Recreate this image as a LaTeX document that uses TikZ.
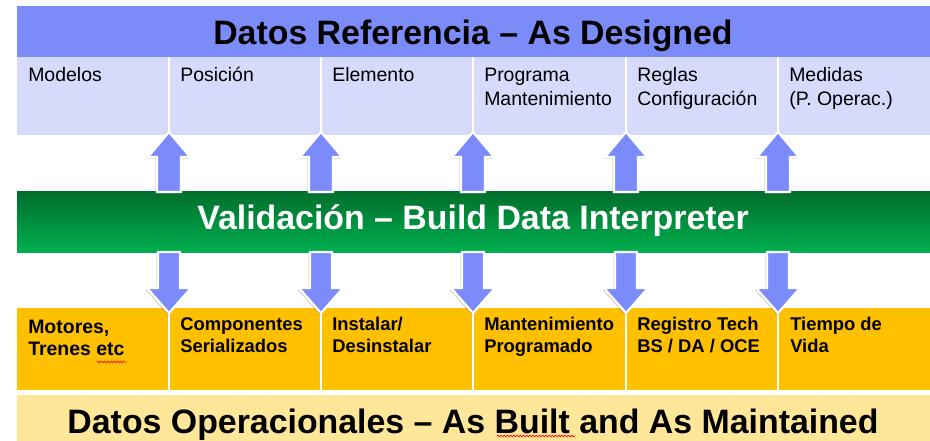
\documentclass[tikz,border=0pt]{standalone}
\usepackage{fontspec}
\setmainfont{Liberation Sans}
\usetikzlibrary{shadows,decorations.pathmorphing}
\definecolor{banblue}{HTML}{7B8CF9}
\definecolor{lightblue}{HTML}{D6DAFB}
\definecolor{gtop}{HTML}{006F2C}
\definecolor{gbot}{HTML}{00B050}
\definecolor{orng}{HTML}{FFC000}
\definecolor{paleor}{HTML}{FFE699}
\definecolor{arrblue}{HTML}{7B8CFA}
\tikzset{
  arrowshape/.style={fill=arrblue, draw=white, line width=1.6pt, line join=miter,
    drop shadow={opacity=0.35, shadow xshift=-1.2pt, shadow yshift=-1.2pt, fill=gray}},
  sepline/.style={draw=white, line width=0.9pt},
  toptext/.style={anchor=base west, inner sep=0pt, font=\fontsize{14.6}{18}\selectfont},
  bottext/.style={anchor=base west, inner sep=0pt, font=\fontsize{13.8}{16.5}\selectfont\bfseries},
  bottextbig/.style={anchor=base west, inner sep=0pt, font=\fontsize{14.6}{16.5}\selectfont\bfseries},
  bigtext/.style={inner sep=0pt, font=\fontsize{25.4}{30}\selectfont\bfseries},
  squiggle/.style={draw=red, line width=0.5pt, decorate, decoration={snake, amplitude=0.6pt, segment length=2.4pt}}
}
\newcommand{\tbox}[1]{\parbox[t]{150pt}{\raggedright #1}}
\begin{document}
\begin{tikzpicture}[x=0.75pt,y=-0.75pt]
\useasboundingbox (0,0) rectangle (930,441);
% bands
\fill[banblue] (17,6) rectangle (930,57);
\fill[lightblue] (17,57) rectangle (930,135);
\shade[top color=gtop, bottom color=gbot] (17,192) rectangle (930,253);
\fill[orng] (17,308) rectangle (930,390);
\fill[paleor] (17,395) rectangle (930,441);
% column borders
\foreach \n/\x in {1/169,2/321,3/473,4/626,5/778}{
  \coordinate (c\n) at (\x,0);
  \draw[sepline] (\x,57) -- (\x,135);
  \draw[sepline] (\x,308) -- (\x,390);
}
% titles
\node[bigtext] (title) at (473,45) [anchor=base] {Datos Referencia – As Designed};
\node[bigtext, text=white] (valid) at (473,230) [anchor=base] {Validación – Build Data Interpreter};
\node[bigtext] (oper) at (473,433) [anchor=base] {Datos Operacionales – As Built and As Maintained};
% top row texts
\node[toptext] (t1) at (28,82) {\tbox{Modelos}};
\node[toptext] (t2) at (180,82) {\tbox{Posición}};
\node[toptext] (t3) at (332,82) {\tbox{Elemento}};
\node[toptext] (t4) at (484,82) {\tbox{Programa\\Mantenimiento}};
\node[toptext] (t5) at (637,82) {\tbox{Reglas\\Configuración}};
\node[toptext] (t6) at (789,82) {\tbox{Medidas\\(P. Operac.)}};
% bottom row texts
\node[bottextbig] (b1) at (28,333) {\tbox{Motores,\\Trenes etc}};
\node[bottext] (b2) at (180,330) {\tbox{Componentes\\Serializados}};
\node[bottext] (b3) at (332,330) {\tbox{Instalar/\\Desinstalar}};
\node[bottext] (b4) at (484,330) {\tbox{Mantenimiento\\Programado}};
\node[bottext] (b5) at (637,330) {\tbox{Registro Tech\\BS / DA / OCE}};
\node[bottext] (b6) at (790,330) {\tbox{Tiempo de\\Vida}};
% arrows
\foreach \n in {1,...,5}{
  \path[arrowshape] ([xshift=0pt]c\n |- 0,132) -- ([xshift=21*0.75pt]c\n |- 0,157) -- ([xshift=12*0.75pt]c\n |- 0,157)
     -- ([xshift=12*0.75pt]c\n |- 0,192) -- ([xshift=-12*0.75pt]c\n |- 0,192) -- ([xshift=-12*0.75pt]c\n |- 0,157)
     -- ([xshift=-21*0.75pt]c\n |- 0,157) -- cycle;
  \path[arrowshape] ([xshift=-11*0.75pt]c\n |- 0,252) -- ([xshift=11*0.75pt]c\n |- 0,252) -- ([xshift=11*0.75pt]c\n |- 0,288)
     -- ([xshift=22*0.75pt]c\n |- 0,288) -- ([xshift=0pt]c\n |- 0,313) -- ([xshift=-22*0.75pt]c\n |- 0,288)
     -- ([xshift=-11*0.75pt]c\n |- 0,288) -- cycle;
}
% spell-check squiggles
\draw[squiggle] (97,362) -- (126,362);
\draw[squiggle] (497,436) -- (575,436);
\end{tikzpicture}
\end{document}
